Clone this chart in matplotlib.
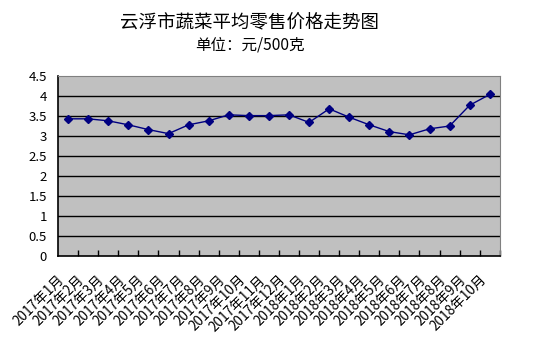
import numpy as np
import matplotlib
matplotlib.use("Agg")
import matplotlib.pyplot as plt
import matplotlib.transforms as mtransforms

plt.rcParams['font.family'] = ['Noto Sans CJK SC', 'DejaVu Sans']

months = ["2017年1月", "2017年2月", "2017年3月", "2017年4月", "2017年5月", "2017年6月",
          "2017年7月", "2017年8月", "2017年9月", "2017年10月", "2017年11月", "2017年12月",
          "2018年1月", "2018年2月", "2018年3月", "2018年4月", "2018年5月", "2018年6月",
          "2018年7月", "2018年8月", "2018年9月", "2018年10月"]
prices = [3.43, 3.43, 3.38, 3.28, 3.16, 3.06, 3.28, 3.38, 3.53, 3.51, 3.51, 3.53,
          3.34, 3.68, 3.47, 3.28, 3.11, 3.03, 3.18, 3.25, 3.77, 4.04]
yticks = [0, 0.5, 1, 1.5, 2, 2.5, 3, 3.5, 4, 4.5]
ytick_labels = ["0", "0.5", "1", "1.5", "2", "2.5", "3", "3.5", "4", "4.5"]

fig = plt.figure(figsize=(5.38, 3.57), dpi=100)
ax = fig.add_axes([0.108, 0.283, 0.821, 0.504])
ax.set_facecolor('#c0c0c0')

x = np.arange(1, len(prices) + 1)
ax.plot(x, prices, color='#000080', linewidth=1, marker='D', markersize=4,
        markerfacecolor='#000080', markeredgecolor='#000080', zorder=3)

ax.set_xlim(0.5, len(prices) + 0.5)
ax.set_ylim(0, 4.5)
ax.set_yticks(yticks)
ax.set_yticklabels(ytick_labels, fontsize=9.5)
ax.tick_params(axis='y', length=0, pad=8)
for y in yticks[1:-1]:
    ax.axhline(y, color='black', linewidth=1, zorder=1)

ax.set_xticks(x)
ax.set_xticklabels(months, rotation=45, ha='right', va='top',
                   rotation_mode='anchor', fontsize=9.8)
ax.tick_params(axis='x', which='major', length=0, pad=12)
ax.set_xticks(np.arange(1.5, len(prices) + 0.6, 1), minor=True)
ax.tick_params(axis='x', which='minor', direction='in', length=4, width=1)
offset = mtransforms.ScaledTranslation(-8 / 72, 0, fig.dpi_scale_trans)
for lab in ax.get_xticklabels():
    lab.set_transform(lab.get_transform() + offset)

for side in ['top', 'right']:
    ax.spines[side].set_color('#808080')
for side in ['left', 'bottom']:
    ax.spines[side].set_color('black')
    ax.spines[side].set_linewidth(1.2)

fig.text(0.464, 0.935, "云浮市蔬菜平均零售价格走势图", ha='center', va='center', fontsize=13.3)
fig.text(0.464, 0.874, "单位：元/500克", ha='center', va='center', fontsize=11.2)

fig.savefig("out.png", dpi=100)
